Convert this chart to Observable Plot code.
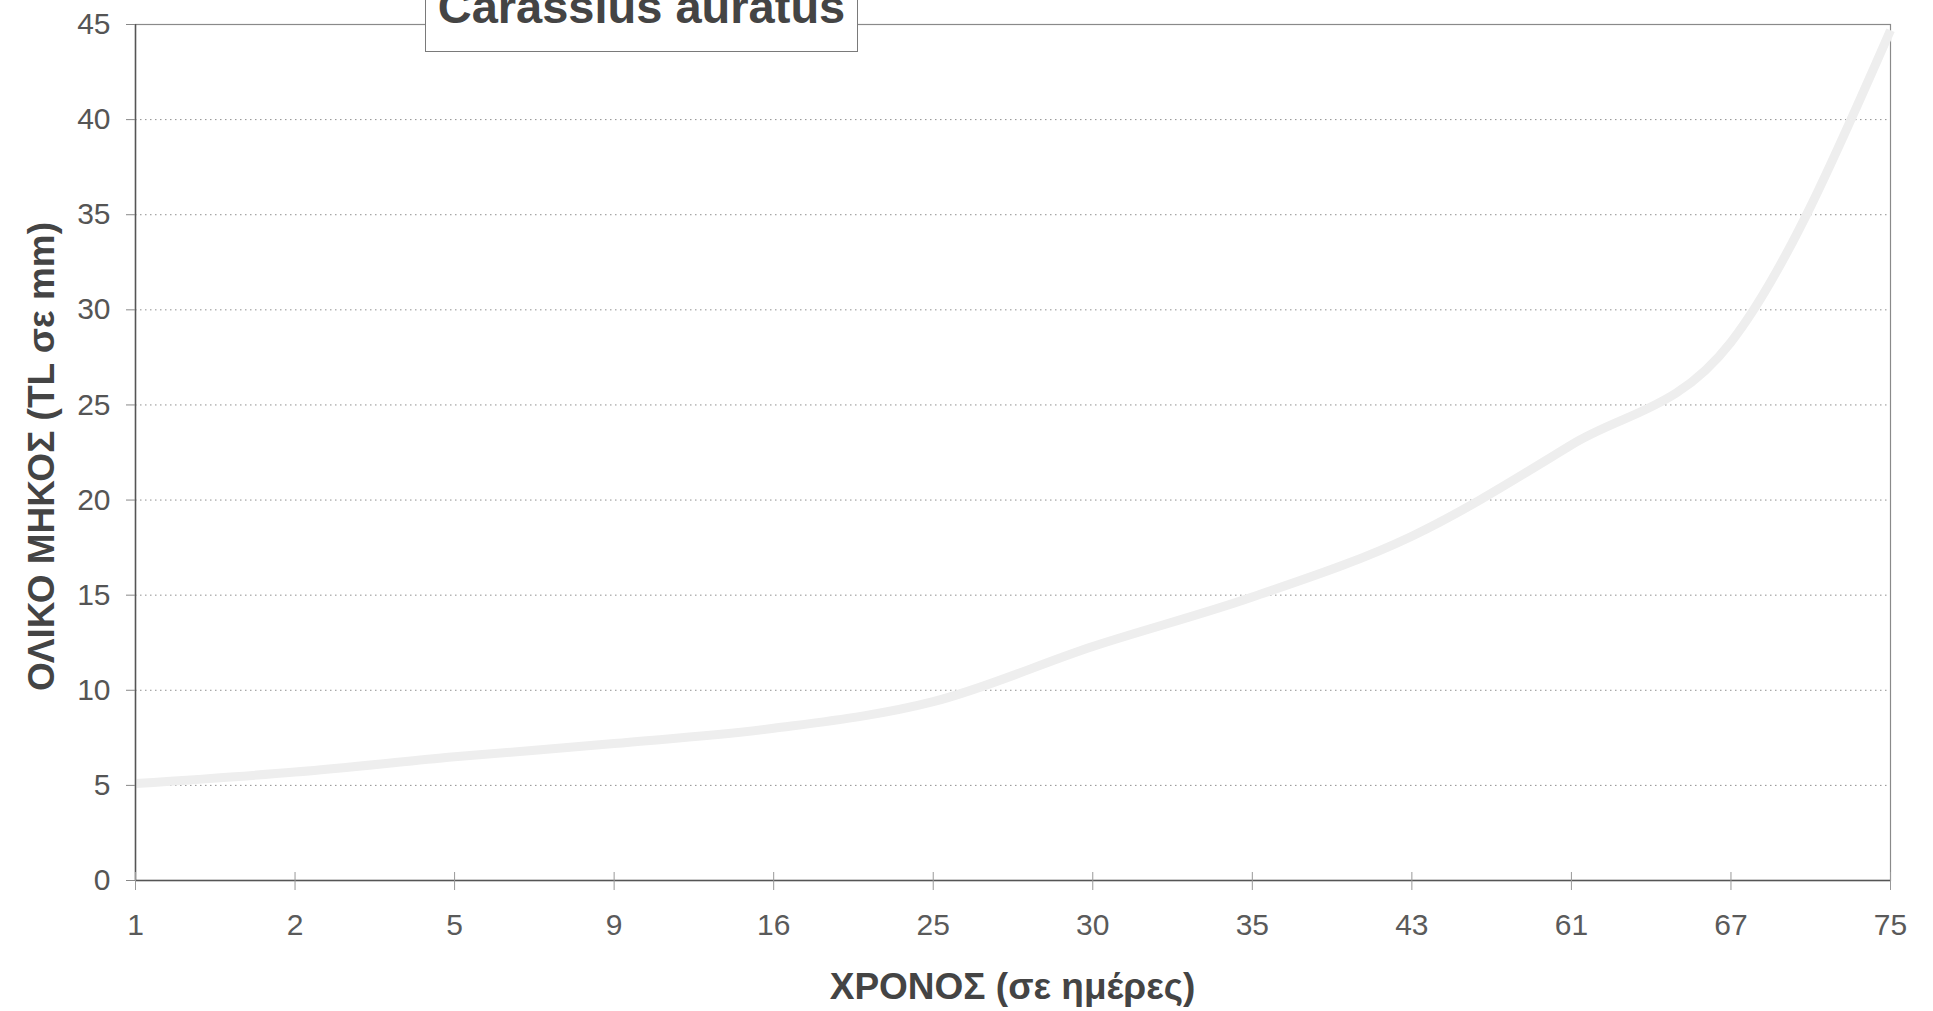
<!DOCTYPE html>
<html>
<head>
<meta charset="utf-8">
<script src="https://cdn.jsdelivr.net/npm/d3@7"></script>
<script src="https://cdn.jsdelivr.net/npm/@observablehq/plot@0.6"></script>
<style>
  html, body { margin: 0; padding: 0; background: #fff; }
  #wrap { position: relative; width: 1933px; height: 1011px; overflow: hidden; background: #fff;
          font-family: "Liberation Sans", Arial, Helvetica, sans-serif; }
  #chart { position: absolute; left: 0; top: 0; }
  #titlebox { position: absolute; left: 425px; top: -40px; width: 431px; height: 90px;
              border: 1px solid #7a7a7a; background: #fff; }
  #titletext { position: absolute; left: 0; right: 0; top: 22px; text-align: center;
               font-size: 47px; line-height: 1; font-weight: bold; color: #444; white-space: nowrap; }
  #xtitle { position: absolute; left: 0; width: 2025px; top: 968px; text-align: center;
            font-size: 37px; line-height: 1; font-weight: bold; color: #444; white-space: nowrap; }
  #ytitle { position: absolute; left: -259px; top: 438px; width: 600px; height: 37px; text-align: center;
            font-size: 37px; line-height: 1; font-weight: bold; color: #444; white-space: nowrap;
            transform: rotate(-90deg); transform-origin: 50% 50%; }
</style>
</head>
<body>
<div id="wrap">
  <div id="chart"></div>
  <div id="titlebox"><div id="titletext">Carassius auratus</div></div>
  <div id="xtitle">ΧΡΟΝΟΣ (σε ημέρες)</div>
  <div id="ytitle">ΟΛΙΚΟ ΜΗΚΟΣ (TL σε mm)</div>
</div>
<script>
// Days (categorical x axis, evenly spaced)
const days = ["1", "2", "5", "9", "16", "25", "30", "35", "43", "61", "67", "75"];
// Total length (TL, mm)
const lengths = [5.1, 5.7, 6.5, 7.2, 8.0, 9.4, 12.3, 14.9, 18.1, 22.9, 28.3, 44.7];
// Y axis ticks and dotted grid values
const yTicks = [0, 5, 10, 15, 20, 25, 30, 35, 40, 45];
const gridValues = [5, 10, 15, 20, 25, 30, 35, 40];

const data = days.map((d, i) => ({day: d, len: lengths[i]}));

const chart = Plot.plot({
  width: 1933,
  height: 1011,
  marginLeft: 135,
  marginRight: 43,
  marginTop: 24,
  marginBottom: 131,
  style: {fontFamily: "Liberation Sans, Arial, Helvetica, sans-serif", background: "transparent", color: "#555"},
  x: {type: "point", domain: days, padding: 0, round: false, label: null},
  y: {domain: [0, 45], label: null},
  marks: [
    Plot.gridY(gridValues, {stroke: "#8f8f8f", strokeOpacity: 1, strokeWidth: 1, strokeDasharray: "1.5,3.5"}),
    Plot.frame({stroke: "#8a8a8a", strokeWidth: 1.2}),
    Plot.line(data, {x: "day", y: "len", curve: "monotone-x", stroke: "#eeeeee", strokeWidth: 9, strokeLinecap: "butt"}),
    Plot.ruleY([0], {stroke: "#555", strokeWidth: 1.5}),
    Plot.ruleX([days[0]], {stroke: "#555", strokeWidth: 1.5}),
    Plot.axisY(yTicks, {tickSize: 9, tickPadding: 16, fontSize: 30, fill: "#555", stroke: "#888", label: null}),
    Plot.axisX(days, {tickSize: 10, tickPadding: 23, fontSize: 30, fill: "#5a5a5a", stroke: "#999", label: null}),
    Plot.axisX(days, {tickSize: -8, tickFormat: () => "", stroke: "#999", label: null})
  ]
});
document.getElementById("chart").appendChild(chart);
</script>
</body>
</html>
